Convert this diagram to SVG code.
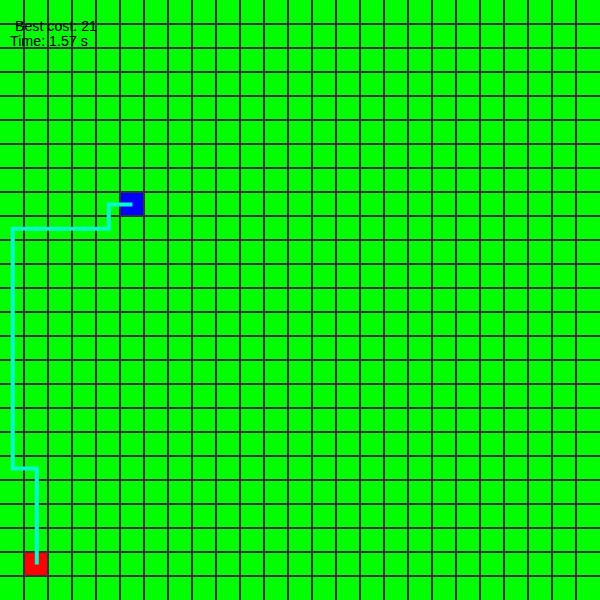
<svg xmlns="http://www.w3.org/2000/svg" width="600" height="600" viewBox="0 0 600 600">
<defs>
<style>
.grid{stroke:#333333;stroke-width:2;fill:none}
.label{font-family:"Liberation Sans",Arial,sans-serif;font-size:14px;fill:#000}
</style>
</defs>
<rect width="600" height="600" fill="#00ff00"/>
<g id="goal"><rect x="120" y="192" width="24" height="24" fill="#0000ff"/></g>
<g id="start"><rect x="24" y="552" width="24" height="24" fill="#ff0000"/></g>
<g id="grid">
<path class="grid" d="M24,0V600M48,0V600M72,0V600M96,0V600M120,0V600M144,0V600M168,0V600M192,0V600M216,0V600M240,0V600M264,0V600M288,0V600M312,0V600M336,0V600M360,0V600M384,0V600M408,0V600M432,0V600M456,0V600M480,0V600M504,0V600M528,0V600M552,0V600M576,0V600M0,24H600M0,48H600M0,72H600M0,96H600M0,120H600M0,144H600M0,168H600M0,192H600M0,216H600M0,240H600M0,264H600M0,288H600M0,312H600M0,336H600M0,360H600M0,384H600M0,408H600M0,432H600M0,456H600M0,480H600M0,504H600M0,528H600M0,552H600M0,576H600"/>
</g>
<g id="connectors">
<polyline points="132.5,204.5 108.8,204.5 108.8,228.8 12.8,228.8 12.8,468.5 36.8,468.5 36.8,564.5" fill="none" stroke="#00ffcc" stroke-width="4"/>
</g>
<g id="info">
<text class="label" x="15" y="30.5" textLength="82" lengthAdjust="spacingAndGlyphs">Best cost: 21</text>
<text class="label" x="10" y="46" textLength="78" lengthAdjust="spacingAndGlyphs">Time: 1.57 s</text>
</g>
</svg>
